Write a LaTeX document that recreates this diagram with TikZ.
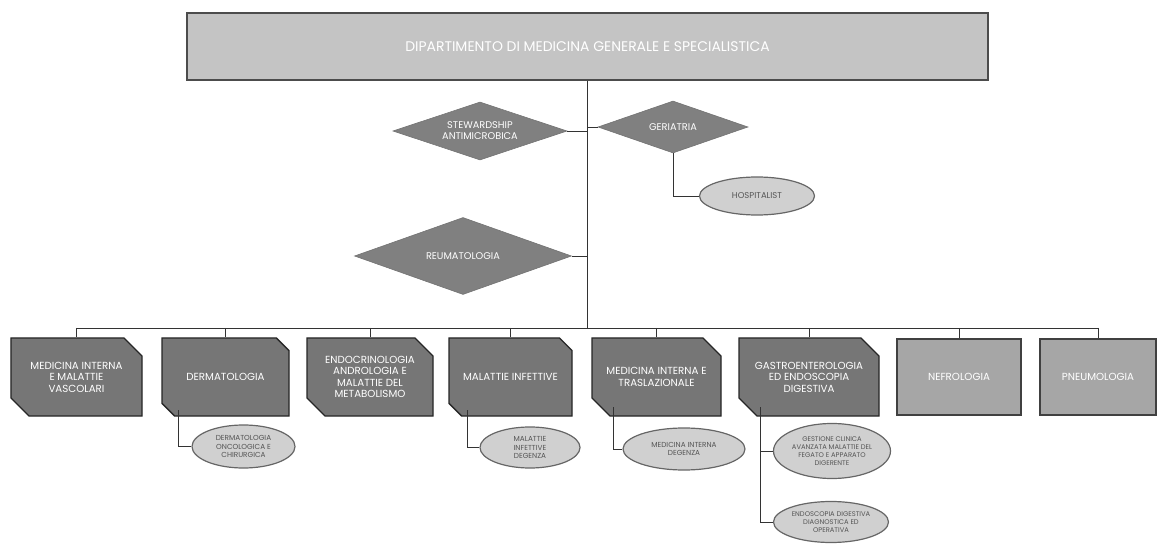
\documentclass[tikz,border=0pt]{standalone}
\usepackage{fontspec}
\setmainfont{Poppins}
\usetikzlibrary{shapes.geometric,shapes.misc}
\definecolor{topfill}{RGB}{196,196,196}
\definecolor{diafill}{RGB}{128,128,128}
\definecolor{unitfill}{RGB}{118,118,118}
\definecolor{plainfill}{RGB}{166,166,166}
\definecolor{subfill}{RGB}{208,208,208}
\definecolor{subtext}{RGB}{85,85,85}
\tikzset{
  topbox/.style={rectangle, draw=black!70, line width=1.2bp, fill=topfill, minimum width=801bp, minimum height=67bp, inner sep=0pt, text=white, font=\fontsize{14}{16}\selectfont},
  dia/.style={diamond, shape aspect=3, fill=diafill, draw=black!55, line width=0.6bp, inner sep=0pt, text=white, align=center, font=\fontsize{9.8}{11}\selectfont},
  unit/.style={chamfered rectangle, chamfered rectangle corners={north east,south west}, chamfered rectangle xsep=9bp, chamfered rectangle ysep=9bp, fill=unitfill, draw=black!85, line width=1.3bp, inner sep=0pt, minimum height=78bp, text=white, align=center, font=\fontsize{10.3}{11.5}\selectfont},
  plainunit/.style={rectangle, fill=plainfill, draw=black!75, line width=1.2bp, inner sep=0pt, minimum height=76bp, text=white, align=center, font=\fontsize{10.3}{11.5}\selectfont},
  sub/.style={ellipse, fill=subfill, draw=black!60, line width=1.2bp, inner xsep=-14bp, inner ysep=-6bp, text=subtext, align=center, font=\fontsize{6.8}{7.8}\selectfont},
  link/.style={draw=black!80, line width=0.8bp}
}
\begin{document}
\begin{tikzpicture}[x=1bp,y=-1bp]
\useasboundingbox (0,0) rectangle (1157,544);
% top
\node[topbox] (top) at (587.5,46.5) {DIPARTIMENTO DI MEDICINA GENERALE E SPECIALISTICA};
% staff
\node[dia, minimum width=174bp, minimum height=58bp] (stew) at (480,131) {STEWARDSHIP\\ANTIMICROBICA};
\node[dia, minimum width=150bp, minimum height=52bp] (geri) at (673,127) {GERIATRIA};
\node[dia, minimum width=217bp, minimum height=77bp] (reum) at (463,256) {REUMATOLOGIA};
\node[sub, minimum width=115bp, minimum height=38bp, font=\fontsize{8.5}{10}\selectfont] (hosp) at (757,196) {HOSPITALIST};
% units
\node[unit, minimum width=131bp] (b1) at (76.5,377) {MEDICINA INTERNA\\E MALATTIE\\VASCOLARI};
\node[unit, minimum width=127bp] (b2) at (225.5,377) {DERMATOLOGIA};
\node[unit, minimum width=126bp] (b3) at (370,377) {ENDOCRINOLOGIA\\ANDROLOGIA E\\MALATTIE DEL\\METABOLISMO};
\node[unit, minimum width=123bp] (b4) at (510.5,377) {MALATTIE INFETTIVE};
\node[unit, minimum width=129bp] (b5) at (656.5,377) {MEDICINA INTERNA E\\TRASLAZIONALE};
\node[unit, minimum width=140bp] (b6) at (809,377) {GASTROENTEROLOGIA\\ED ENDOSCOPIA\\DIGESTIVA};
\node[plainunit, minimum width=124bp] (b7) at (959,377) {NEFROLOGIA};
\node[plainunit, minimum width=116bp] (b8) at (1098,377) {PNEUMOLOGIA};
% sub units
\node[sub, minimum width=103bp, minimum height=43bp, font=\fontsize{7.3}{8.3}\selectfont] (e2) at (243.5,446.5) {DERMATOLOGIA\\ONCOLOGICA E\\CHIRURGICA};
\node[sub, minimum width=100bp, minimum height=41bp, font=\fontsize{7.3}{8.3}\selectfont] (e4) at (530,447.5) {MALATTIE\\INFETTIVE\\DEGENZA};
\node[sub, minimum width=122bp, minimum height=42bp, font=\fontsize{7.3}{8.3}\selectfont] (e5) at (684,449) {MEDICINA INTERNA\\DEGENZA};
\node[sub, minimum width=117bp, minimum height=55bp] (e6a) at (832,451) {GESTIONE CLINICA\\AVANZATA MALATTIE DEL\\FEGATO E APPARATO\\DIGERENTE};
\node[sub, minimum width=115bp, minimum height=41bp] (e6b) at (831,522) {ENDOSCOPIA DIGESTIVA\\DIAGNOSTICA ED\\OPERATIVA};
% connectors
\coordinate (bus) at (0,328);
\draw[link] (top.south) -- (top.south |- bus);
\draw[link] (stew.east) -- (stew.east -| top.south);
\draw[link] (geri.west) -- (geri.west -| top.south);
\draw[link] (reum.east) -- (reum.east -| top.south);
\draw[link] (geri.south) -- (geri.south |- hosp.west) -- (hosp.west);
\draw[link] (b1.north |- bus) -- (b8.north |- bus);
\foreach \b in {b1,b2,b3,b4,b5,b6,b7,b8}{\draw[link] (\b.north |- bus) -- (\b.north);}
\coordinate (s2) at ([xshift=11bp]b2.south west);
\coordinate (s4) at ([xshift=13bp]b4.south west);
\coordinate (s5) at ([xshift=13bp]b5.south west);
\coordinate (s6) at ([xshift=13bp]b6.south west);
\draw[link] (s2) -- (s2 |- e2.west) -- (e2.west);
\draw[link] (s4) -- (s4 |- e4.west) -- (e4.west);
\draw[link] (s5) -- (s5 |- e5.west) -- (e5.west);
\draw[link] (s6) -- (s6 |- e6a.west) -- (e6a.west);
\draw[link] (s6 |- e6a.west) -- (s6 |- e6b.west) -- (e6b.west);
\end{tikzpicture}
\end{document}
